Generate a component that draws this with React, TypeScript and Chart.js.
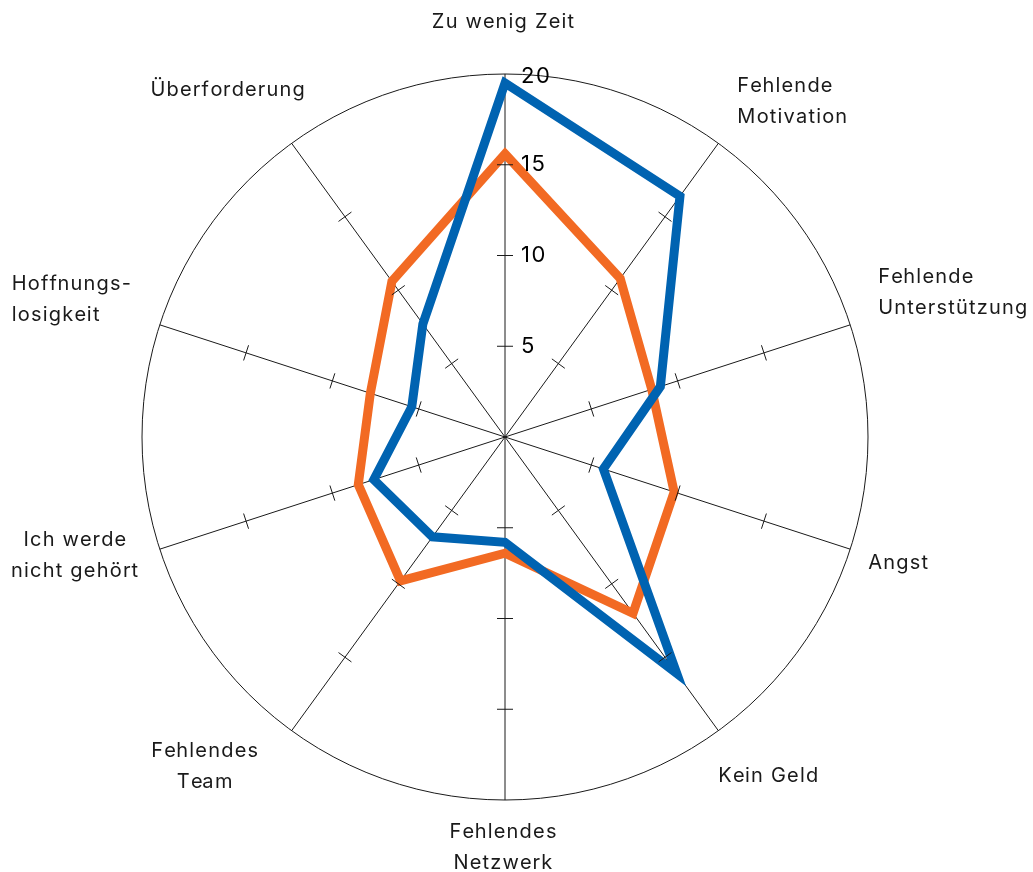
import React, { useEffect, useRef } from "react";
import { Chart, registerables } from "chart.js";

Chart.register(...registerables);

const categories: string[][] = [
  ["Zu wenig Zeit"],
  ["Fehlende", "Motivation"],
  ["Fehlende", "Unterstützung"],
  ["Angst"],
  ["Kein Geld"],
  ["Fehlendes", "Netzwerk"],
  ["Fehlendes", "Team"],
  ["Ich werde", "nicht gehört"],
  ["Hoffnungs-", "losigkeit"],
  ["Überforderung"],
];

const seriesBlue: number[] = [19.5, 16.4, 9.0, 5.7, 16.1, 5.8, 6.8, 7.6, 5.4, 7.7];
const seriesOrange: number[] = [15.6, 10.8, 8.5, 9.8, 12.0, 6.4, 9.8, 8.5, 7.8, 10.6];

const tickValues: number[] = [5, 10, 15, 20];
const tickMarkValues: number[] = [5, 10, 15];
const scaleMax = 20;

// label placement relative to the outer end of each spoke
const labelLayout = [
  { align: "center", dx: -2, dy: -52 },
  { align: "left", dx: 19, dy: -42 },
  { align: "left", dx: 28, dy: -32 },
  { align: "left", dx: 18, dy: 14 },
  { align: "left", dx: 0, dy: 45 },
  { align: "center", dx: -2, dy: 47 },
  { align: "center", dx: -87, dy: 36 },
  { align: "center", dx: -85, dy: 6 },
  { align: "left", dx: -148, dy: -25 },
  { align: "center", dx: -64, dy: -53 },
];

const FONT = "Inter, 'Open Sans', sans-serif";
const BLUE = "#0063B1";
const ORANGE = "#F26A23";
const INK = "#1a1a1a";
const WIDTH = 1033;
const HEIGHT = 872;

function drawText(ctx: any, text: string, x: number, y: number, align: string, spacing: number) {
  const chars = Array.from(text);
  const total = ctx.measureText(text).width + spacing * (chars.length - 1);
  let start = x;
  if (align === "center") start = x - total / 2;
  else if (align === "right") start = x - total;
  ctx.textAlign = "left";
  for (let i = 0; i < chars.length; i++) {
    const prefix = chars.slice(0, i).join("");
    const px = ctx.measureText(prefix).width + spacing * i;
    ctx.fillText(chars[i], start + px, y);
  }
}

const decorPlugin = {
  id: "decor",
  afterDatasetsDraw(chart: any) {
    const scale = chart.scales.r;
    const ctx = chart.ctx;
    ctx.save();
    // tick marks across each spoke
    ctx.strokeStyle = INK;
    ctx.lineWidth = 1;
    for (let i = 0; i < categories.length; i++) {
      for (const v of tickMarkValues) {
        const p = scale.getPointPositionForValue(i, v);
        const a = p.angle;
        const nx = -Math.sin(a);
        const ny = Math.cos(a);
        ctx.beginPath();
        ctx.moveTo(p.x - nx * 8, p.y - ny * 8);
        ctx.lineTo(p.x + nx * 8, p.y + ny * 8);
        ctx.stroke();
      }
    }
    // tick labels on the first spoke
    ctx.fillStyle = "#000";
    ctx.font = `22px ${FONT}`;
    ctx.textBaseline = "middle";
    for (const v of tickValues) {
      const p = scale.getPointPositionForValue(0, v);
      drawText(ctx, String(v), p.x + 16, p.y + (v === scaleMax ? 2 : 0), "left", 1.5);
    }
    // category labels
    ctx.fillStyle = INK;
    ctx.font = `20px ${FONT}`;
    const lh = 31;
    for (let i = 0; i < categories.length; i++) {
      const end = scale.getPointPositionForValue(i, scaleMax);
      const lay = labelLayout[i];
      const lines = categories[i];
      const cx = end.x + lay.dx;
      const cy = end.y + lay.dy;
      lines.forEach((line, k) => {
        drawText(ctx, line, cx, cy + (k - (lines.length - 1) / 2) * lh, lay.align, 1.2);
      });
    }
    ctx.restore();
  },
};

export default function App() {
  const ref = useRef<HTMLCanvasElement | null>(null);
  useEffect(() => {
    if (!ref.current) return;
    const chart = new Chart(ref.current, {
      type: "radar",
      data: {
        labels: categories.map((c) => c.join(" ")),
        datasets: [
          {
            label: "Blau",
            data: seriesBlue,
            borderColor: BLUE,
            borderWidth: 9,
            borderJoinStyle: "miter",
            pointRadius: 0,
            fill: false,
          },
          {
            label: "Orange",
            data: seriesOrange,
            borderColor: ORANGE,
            borderWidth: 9,
            borderJoinStyle: "miter",
            pointRadius: 0,
            fill: false,
          },
        ],
      },
      options: {
        animation: false,
        responsive: false,
        maintainAspectRatio: false,
        layout: { padding: { left: 142, right: 165, top: 74, bottom: 72 } },
        plugins: { legend: { display: false }, tooltip: { enabled: false } },
        elements: { line: { tension: 0 } },
        scales: {
          r: {
            z: 1,
            min: 0,
            max: scaleMax,
            ticks: { stepSize: 5, display: false },
            grid: {
              circular: true,
              lineWidth: 1,
              color: (c: any) => (c.tick && c.tick.value === scaleMax ? INK : "rgba(0,0,0,0)"),
            },
            angleLines: { display: true, color: INK, lineWidth: 1 },
            pointLabels: { display: false },
          },
        },
      },
      plugins: [decorPlugin],
    });
    return () => chart.destroy();
  }, []);
  return (
    <div style={{ position: "fixed", left: 0, top: 0, width: WIDTH, height: HEIGHT, background: "#fff" }}>
      <canvas ref={ref} width={WIDTH} height={HEIGHT} style={{ display: "block" }} />
    </div>
  );
}
